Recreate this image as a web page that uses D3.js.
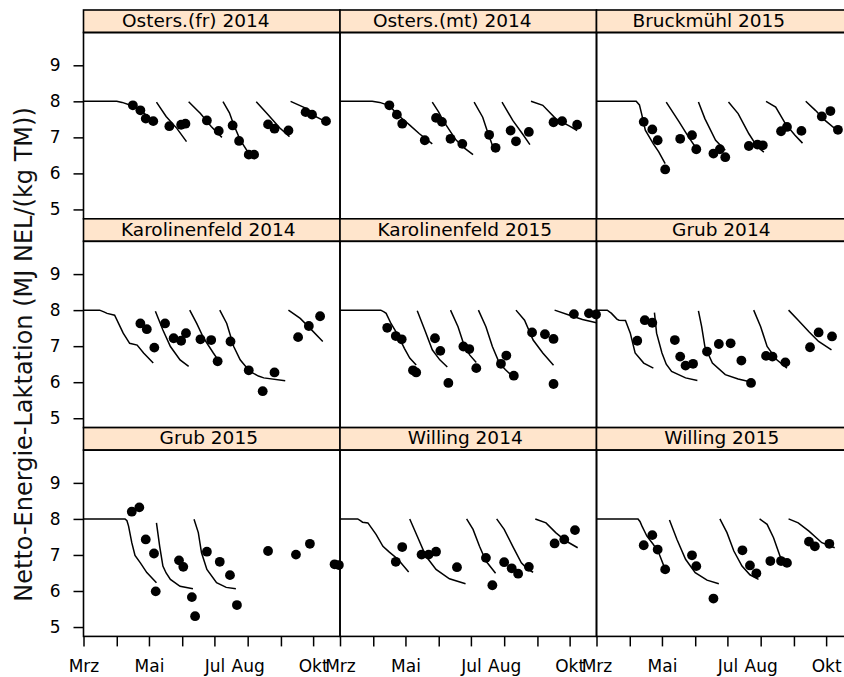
<!DOCTYPE html>
<html><head><meta charset="utf-8">
<script src="https://cdn.jsdelivr.net/npm/d3@7"></script>
<style>body{margin:0;background:#fff} svg{display:block}</style>
</head><body><svg id="c" width="844" height="677"></svg>
<script>
// ---------- data (x = day of year, y = NEL MJ/kg TM) ----------
const panelNames = ["Osters.(fr) 2014","Osters.(mt) 2014","Bruckmühl 2015",
  "Karolinenfeld 2014","Karolinenfeld 2015","Grub 2014",
  "Grub 2015","Willing 2014","Willing 2015"];
const monthNames = ["Mrz","Apr","Mai","Jun","Jul","Aug","Sep","Okt"];
const labeledMonths = ["Mrz","Mai","Jul","Aug","Okt"];
const yTicks = [5,6,7,8,9];

const dotsOstersFr2014 = [[106,7.89],[113,7.75],[118,7.52],[125,7.45],[140,7.31],[151,7.35],[155,7.38],[175,7.47],[186,7.18],[199,7.33],[205,6.90],[214,6.52],[219,6.52],[232,7.36],[238,7.24],[251,7.19],[267,7.70],[273,7.63],[286,7.45]];
const curvesOstersFr2014 = [
  [[60,8],[91,8],[96,7.97],[106,7.87],[116,7.68],[122,7.53],[128,7.42]],
  [[128,7.98],[137,7.58],[147,7.25],[156,6.88]],
  [[158,7.99],[169,7.66],[179,7.3],[189,7.0]],
  [[190,7.99],[196,7.68],[200,7.35],[206,6.93],[213,6.6],[221,6.47]],
  [[221,7.99],[231,7.66],[243,7.26],[252,7.02]],
  [[253,8.0],[268,7.8],[277,7.57],[288,7.4]]];

const dotsOstersMt2014 = [[106,7.89],[113,7.63],[118,7.38],[139,6.92],[149.5,7.54],[155,7.43],[163,6.96],[174,6.82],[199,7.07],[205,6.71],[219,7.19],[224,6.89],[236,7.15],[259,7.42],[267,7.45],[281,7.35]];
const curvesOstersMt2014 = [
  [[60,8],[90,8],[97,7.97],[106,7.88],[114,7.62],[125,7.34],[134,7.1],[146,6.82]],
  [[146,7.98],[152,7.7],[156,7.47],[168,6.93],[176,6.7],[184,6.52]],
  [[185,7.98],[193,7.56],[197,7.2],[202,6.78]],
  [[211,7.98],[221,7.47],[230,7.1],[237,6.8]],
  [[238,8.0],[249,7.89],[261,7.52],[274,7.31],[281,7.19]]];

const dotsBruckmuehl2015 = [[104,7.43],[112,7.22],[117,6.92],[124,6.11],[138,6.96],[149,7.06],[153,6.67],[169,6.55],[175,6.67],[180,6.45],[202,6.76],[210,6.80],[215,6.78],[232,7.17],[237.5,7.29],[251,7.18],[270,7.58],[278,7.73],[285,7.21]];
const curvesBruckmuehl2015 = [
  [[60,8],[97,8],[100,7.9],[102,7.66],[105.5,7.2],[113,6.82],[118,6.6],[124,6.27]],
  [[125,7.98],[137,7.43],[146,7.0],[152,6.74]],
  [[155,7.98],[161,7.52],[171,6.92],[180,6.64]],
  [[183,7.98],[192,7.66],[202,7.1],[210,6.73],[216,6.59]],
  [[218,8.0],[227,7.84],[236,7.38],[245,7.06],[252,6.84]],
  [[255,8.0],[264,7.75],[273,7.47],[286,7.15]]];

const dotsKarolinenfeld2014 = [[113,7.63],[119,7.47],[126,6.96],[136,7.63],[144,7.22],[151,7.15],[155.5,7.36],[169,7.19],[179,7.17],[185,6.58],[197,7.13],[214,6.33],[227,5.75],[238,6.27],[260,7.25],[270,7.56],[280.5,7.83]];
const curvesKarolinenfeld2014 = [
  [[60,8],[75,8],[79,7.95],[82,7.91],[89,7.86],[97,7.36],[103,7.08],[110,7.03],[116,6.81],[125,6.53]],
  [[127,7.97],[134,7.45],[141,6.99],[150,6.62],[158,6.44]],
  [[159,8.0],[165.5,7.63],[172,7.22],[181,6.81],[187,6.55]],
  [[187,8.0],[193.5,7.63],[200,6.99],[206,6.62],[215,6.3],[223,6.17],[228,6.12],[248,6.04]],
  [[251,8.0],[262,7.77],[271,7.5],[283,7.13]]];

const dotsKarolinenfeld2015 = [[104,7.51],[112,7.28],[117.5,7.19],[128,6.33],[131,6.27],[148.5,7.22],[153.5,6.87],[161,5.98],[175,6.99],[180.5,6.92],[187,6.39],[210,6.51],[215,6.74],[222,6.18],[239,7.38],[251,7.33],[259,7.20],[259,5.95],[278,7.89],[292,7.91],[298.6,7.88]];
const curvesKarolinenfeld2015 = [
  [[60,8],[98,8],[101,7.95],[103,7.91],[107.5,7.63],[114,7.31],[120,6.94],[125,6.67],[131,6.48]],
  [[132,7.98],[139,7.45],[146,6.9],[153,6.62],[160,6.42]],
  [[163,8.0],[170,7.54],[176,6.99],[181,6.75],[187,6.55]],
  [[189,8.0],[196,7.54],[202,6.99],[208.5,6.53],[214,6.35],[221,6.16]],
  [[224,8.0],[232,7.72],[240,7.17],[249,6.81],[259,6.47]],
  [[260,8.0],[274,7.86],[286,7.74],[299,7.65]]];

const dotsGrub2014 = [[98,7.15],[105,7.72],[112,7.65],[133,7.17],[138,6.71],[143,6.46],[150,6.51],[163,6.85],[174,7.06],[185,7.08],[195,6.60],[204,5.98],[218,6.73],[224,6.71],[236,6.55],[259,6.97],[267,7.38],[279.5,7.27]];
const curvesGrub2014 = [
  [[60,8],[70,8],[74,7.91],[79,7.75],[81,7.72],[87,7.71],[91.5,7.36],[96,6.81],[104,6.53],[113,6.39]],
  [[114,7.93],[116,7.36],[121,6.81],[125,6.5],[130,6.3],[143,6.12],[154,6.05]],
  [[155,7.98],[158,7.54],[161,6.99],[168,6.53],[180,6.21],[192,6.09],[205,6.0]],
  [[206.5,8.0],[213,7.54],[219,6.99],[228,6.62],[237.5,6.39]],
  [[239,8.0],[248,7.72],[258,7.4],[267,7.13],[279,6.9]]];

const dotsGrub2015 = [[105,8.20],[112,8.32],[118,7.43],[125.7,7.04],[127.3,5.99],[149,6.85],[153,6.67],[161,5.83],[164,5.30],[175,7.09],[187,6.81],[196.5,6.44],[203,5.61],[232,7.11],[258,7.01],[271,7.31],[294,6.74],[298,6.72]];
const curvesGrub2015 = [
  [[60,8],[98.7,8],[100.5,7.95],[102,7.8],[105,7.34],[108,6.99],[113,6.78],[119,6.51],[128,6.23]],
  [[128,7.89],[131,7.24],[134,6.69],[137,6.5],[141,6.32],[150,6.13],[162,6.06]],
  [[163,7.99],[167,7.62],[170,7.06],[175,6.6],[184,6.23],[193,6.1],[202,6.06]]];

const dotsWilling2014 = [[112,6.81],[118,7.22],[136,7.01],[142.6,7.01],[149.5,7.09],[169,6.66],[196,6.92],[202,6.16],[213,6.80],[220,6.63],[226,6.48],[236,6.67],[260,7.32],[269,7.43],[279,7.69]];
const curvesWilling2014 = [
  [[60,8],[76.5,8],[79,7.95],[81,7.91],[86,7.89],[93.6,7.57],[100,7.24],[106,7.08],[114,6.88],[124,6.53]],
  [[125,8.0],[132,7.52],[140,6.97],[149.5,6.6],[162,6.34],[177,6.2]],
  [[178,8.0],[184,7.71],[190,7.24],[196,6.83],[205,6.49]],
  [[206,8.0],[213,7.71],[221,7.24],[229,6.78],[235,6.6],[240,6.52]],
  [[242,8.0],[252,7.89],[261,7.62],[271,7.38],[281.5,7.2]]];

const dotsWilling2015 = [[104,7.27],[112,7.55],[117,7.15],[124,6.60],[149,6.99],[153,6.69],[169,5.79],[196,7.13],[203,6.71],[209,6.49],[222,6.83],[232,6.83],[237.5,6.78],[258,7.37],[263.5,7.24],[277,7.31]];
const curvesWilling2015 = [
  [[60,8],[98.7,8],[100.5,7.93],[102.4,7.8],[107,7.52],[113,7.29],[118,7.06],[124,6.6]],
  [[128,7.97],[135,7.43],[143,6.88],[152,6.51],[163,6.3],[174,6.2]],
  [[175,8.0],[181.6,7.62],[188,7.11],[195.6,6.69],[203,6.45],[211,6.32]],
  [[212,8.0],[219,7.85],[225,7.48],[231,6.97],[239,6.71]],
  [[239,8.0],[248,7.89],[258,7.66],[270,7.34],[282,7.2]]];

const panelDots = [dotsOstersFr2014,dotsOstersMt2014,dotsBruckmuehl2015,dotsKarolinenfeld2014,dotsKarolinenfeld2015,dotsGrub2014,dotsGrub2015,dotsWilling2014,dotsWilling2015];
const panelCurves = [curvesOstersFr2014,curvesOstersMt2014,curvesBruckmuehl2015,curvesKarolinenfeld2014,curvesKarolinenfeld2015,curvesGrub2014,curvesGrub2015,curvesWilling2014,curvesWilling2015];

// ---------- layout ----------
const left = 83.5, colW = 256.5, top0 = 10, rowH = 208.8, stripH = 22.5, plotH = 186.3;
const stripTextShift = [-16, -3.5, -3];   // per row, as in the reference
const FONT = "'DejaVu Sans', Verdana, sans-serif";
const DAY = 864e5;
const doyToDate = d => new Date(Date.UTC(2014,0,1) + (d-1)*DAY);
const x = d3.scaleUtc().domain([Date.UTC(2014,2,1), Date.UTC(2014,2,1) + 239.05*DAY]).range([0, colW]);
const y = d3.scaleLinear().domain([4.74, 9.91]).range([plotH, 0]);
const line = d3.line().x(d => x(doyToDate(d[0]))).y(d => y(d[1]));

const svg = d3.select("#c");
svg.append("rect").attr("width",844).attr("height",677).attr("fill","#fff");

panelNames.forEach((name, i) => {
  const col = i % 3, row = Math.floor(i / 3);
  const g = svg.append("g").attr("transform", `translate(${left + col*colW},${top0 + row*rowH})`);
  g.append("rect").attr("width", colW).attr("height", stripH)
    .attr("fill", "#ffe5cc").attr("stroke", "#000").attr("stroke-width", 1.6);
  g.append("text").attr("x", colW/2 + stripTextShift[row]).attr("y", 16.8).attr("text-anchor","middle")
    .attr("font-family", FONT).attr("font-size", 18.5).attr("fill","#000").text(name);
  const p = g.append("g").attr("transform", `translate(0,${stripH})`);
  p.append("rect").attr("width", colW).attr("height", plotH)
    .attr("fill", "none").attr("stroke", "#000").attr("stroke-width", 1.6);
  p.selectAll("path.c").data(panelCurves[i]).join("path").attr("class","c")
    .attr("d", line).attr("fill","none").attr("stroke","#000").attr("stroke-width",1.5);
  p.selectAll("circle").data(panelDots[i]).join("circle")
    .attr("cx", d => x(doyToDate(d[0]))).attr("cy", d => y(d[1])).attr("r", 4.9).attr("fill","#000");

  if (col === 0) {
    const ax = p.append("g").call(d3.axisLeft(y).tickValues(yTicks).tickFormat(d3.format("d")).tickSize(10).tickPadding(13));
    ax.select(".domain").remove();
    ax.selectAll("line").attr("stroke-width",1.5);
    ax.selectAll("text").attr("font-family", FONT).attr("font-size", 17).attr("fill","#000");
  }
  if (row === 2) {
    const ax = p.append("g").attr("transform", `translate(0,${plotH})`)
      .call(d3.axisBottom(x).ticks(d3.utcMonth.every(1)).tickSize(10).tickPadding(13.5)
        .tickFormat(d => { const m = monthNames[d.getUTCMonth() - 2]; return labeledMonths.includes(m) ? m : ""; }));
    ax.select(".domain").remove();
    ax.selectAll("line").attr("stroke-width",1.5);
    ax.selectAll("text").attr("font-family", FONT).attr("font-size", 17).attr("fill","#000");
  }
});

svg.append("text").attr("transform", "translate(31.5,354.5) rotate(-90)")
  .attr("text-anchor","middle").attr("font-family", FONT).attr("font-size", 24)
  .attr("fill","#111").text("Netto-Energie-Laktation (MJ NEL/(kg TM))");
</script></body></html>
